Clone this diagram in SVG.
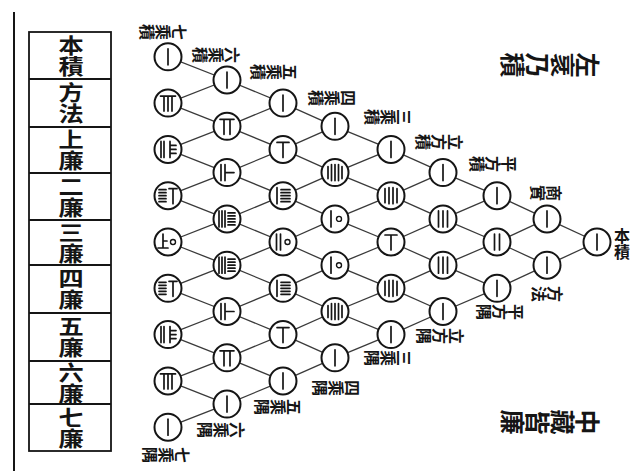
<svg xmlns="http://www.w3.org/2000/svg" width="635" height="471" viewBox="0 0 635 471">
  <style>
    .ring { fill: #fff; stroke: #151515; stroke-width: 2; }
    .rod { fill: none; stroke: #151515; stroke-width: 1.7; stroke-linecap: round; }
    .zero { fill: none; stroke: #151515; stroke-width: 1.4; }
    .edge line { stroke: #3a3a3a; stroke-width: 1.3; }
    .cjk { font-family: "Noto Sans CJK TC", "Noto Sans CJK SC", sans-serif; fill: #151515; }
    .v { writing-mode: vertical-rl; text-anchor: middle; }
    .cell { font-size: 21px; font-weight: bold; }
    .lab { font-size: 16px; font-weight: bold; }
    .cap { font-size: 25px; font-weight: bold; }
    .frame { fill: none; stroke: #151515; stroke-width: 1.8; }
  </style>
  <defs>
    <!-- counting-rod numerals, centred on the origin -->
    <g id="g1"><path class="rod" d="M0,-8V8"/></g>
    <g id="g2"><path class="rod" d="M-2.5,-8V8M2.5,-8V8"/></g>
    <g id="g3"><path class="rod" d="M-4.5,-8V8M0,-8V8M4.5,-8V8"/></g>
    <g id="g4"><path class="rod" d="M-6,-7V7M-2,-8V8M2,-8V8M6,-7V7"/></g>
    <g id="g5"><path class="rod" d="M-7,-6V6M-3.5,-8V8M0,-8V8M3.5,-8V8M7,-6V6"/></g>
    <g id="g6"><path class="rod" d="M-6,-7H6M0,-7V8"/></g>
    <g id="g7"><path class="rod" d="M-7,-7H7M-3,-7V8M3,-7V8"/></g>
    <g id="g8"><path class="rod" d="M-7.5,-7H7.5M-4,-7V8M0,-7V8M4,-7V8"/></g>
    <g id="g10"><path class="rod" d="M-4,-8V8"/><circle class="zero" cx="4" cy="0" r="2.5"/></g>
    <g id="g20"><path class="rod" d="M-6.5,-8V8M-2.5,-8V8"/><circle class="zero" cx="4.5" cy="0" r="2.5"/></g>
    <g id="g15"><path class="rod" d="M-6,-8V8M-2,-6H7M-2,-3H7M-2,0H7M-2,3H7M-2,6H7"/></g>
    <g id="g35"><path class="rod" d="M-8,-8V8M-5,-8V8M-2,-8V8M1,-6H8M1,-3H8M1,0H8M1,3H8M1,6H8"/></g>
    <g id="g21"><path class="rod" d="M-6,-8V8M-2,-8V8M-2,0H7"/></g>
    <g id="g28"><path class="rod" d="M-7,-8V8M-4,-8V8M2,-8V8M2,-4H8M2,0H8M2,4H8"/></g>
    <g id="g56"><path class="rod" d="M-9,-6H-2M-9,-3H-2M-9,0H-2M-9,3H-2M-9,6H-2M1,-7H9M5,-7V8"/></g>
    <g id="g70"><path class="rod" d="M-5,-8V6M-10,6H0M-5,-1H-1"/><circle class="zero" cx="5" cy="0" r="2.5"/></g>
  </defs>

  <rect width="635" height="471" fill="#fff"/>

  <!-- margin rule and the table of names -->
  <g id="table">
    <line x1="14" y1="12" x2="14" y2="471" stroke="#151515" stroke-width="2"/>
    <rect class="frame" x="29" y="32" width="82" height="419"/>
    <path class="frame" d="M29,79H111M29,127H111M29,173H111M29,220H111M29,265H111M29,313H111M29,361H111M29,404H111"/>
    <g class="cjk cell">
      <text class="v" transform="translate(71,56) scale(1.2,1)">本積</text>
      <text class="v" transform="translate(71,103) scale(1.2,1)">方法</text>
      <text class="v" transform="translate(71,150) scale(1.2,1)">上廉</text>
      <text class="v" transform="translate(71,197) scale(1.2,1)">二廉</text>
      <text class="v" transform="translate(71,243) scale(1.2,1)">三廉</text>
      <text class="v" transform="translate(71,289) scale(1.2,1)">四廉</text>
      <text class="v" transform="translate(71,337) scale(1.2,1)">五廉</text>
      <text class="v" transform="translate(71,383) scale(1.2,1)">六廉</text>
      <text class="v" transform="translate(71,428) scale(1.2,1)">七廉</text>
    </g>
  </g>

  <!-- lattice connectors -->
  <g id="connectors" class="edge">
    <line x1="597" y1="242" x2="547" y2="218.9"/><line x1="597" y1="242" x2="547" y2="265.2"/>
    <line x1="547" y1="218.9" x2="497" y2="195.7"/><line x1="547" y1="218.9" x2="497" y2="242"/>
    <line x1="547" y1="265.2" x2="497" y2="242"/><line x1="547" y1="265.2" x2="497" y2="288.3"/>
    <line x1="497" y1="195.7" x2="443" y2="172.6"/><line x1="497" y1="195.7" x2="443" y2="218.9"/>
    <line x1="497" y1="242" x2="443" y2="218.9"/><line x1="497" y1="242" x2="443" y2="265.2"/>
    <line x1="497" y1="288.3" x2="443" y2="265.2"/><line x1="497" y1="288.3" x2="443" y2="311.5"/>
    <line x1="443" y1="172.6" x2="391" y2="149.4"/><line x1="443" y1="172.6" x2="391" y2="195.7"/>
    <line x1="443" y1="218.9" x2="391" y2="195.7"/><line x1="443" y1="218.9" x2="391" y2="242"/>
    <line x1="443" y1="265.2" x2="391" y2="242"/><line x1="443" y1="265.2" x2="391" y2="288.3"/>
    <line x1="443" y1="311.5" x2="391" y2="288.3"/><line x1="443" y1="311.5" x2="391" y2="334.6"/>
    <line x1="391" y1="149.4" x2="335" y2="126.3"/><line x1="391" y1="149.4" x2="335" y2="172.6"/>
    <line x1="391" y1="195.7" x2="335" y2="172.6"/><line x1="391" y1="195.7" x2="335" y2="218.9"/>
    <line x1="391" y1="242" x2="335" y2="218.9"/><line x1="391" y1="242" x2="335" y2="265.2"/>
    <line x1="391" y1="288.3" x2="335" y2="265.2"/><line x1="391" y1="288.3" x2="335" y2="311.5"/>
    <line x1="391" y1="334.6" x2="335" y2="311.5"/><line x1="391" y1="334.6" x2="335" y2="357.8"/>
    <line x1="335" y1="126.3" x2="283" y2="103.1"/><line x1="335" y1="126.3" x2="283" y2="149.4"/>
    <line x1="335" y1="172.6" x2="283" y2="149.4"/><line x1="335" y1="172.6" x2="283" y2="195.7"/>
    <line x1="335" y1="218.9" x2="283" y2="195.7"/><line x1="335" y1="218.9" x2="283" y2="242"/>
    <line x1="335" y1="265.2" x2="283" y2="242"/><line x1="335" y1="265.2" x2="283" y2="288.3"/>
    <line x1="335" y1="311.5" x2="283" y2="288.3"/><line x1="335" y1="311.5" x2="283" y2="334.6"/>
    <line x1="335" y1="357.8" x2="283" y2="334.6"/><line x1="335" y1="357.8" x2="283" y2="380.9"/>
    <line x1="283" y1="103.1" x2="227" y2="80"/><line x1="283" y1="103.1" x2="227" y2="126.3"/>
    <line x1="283" y1="149.4" x2="227" y2="126.3"/><line x1="283" y1="149.4" x2="227" y2="172.6"/>
    <line x1="283" y1="195.7" x2="227" y2="172.6"/><line x1="283" y1="195.7" x2="227" y2="218.9"/>
    <line x1="283" y1="242" x2="227" y2="218.9"/><line x1="283" y1="242" x2="227" y2="265.2"/>
    <line x1="283" y1="288.3" x2="227" y2="265.2"/><line x1="283" y1="288.3" x2="227" y2="311.5"/>
    <line x1="283" y1="334.6" x2="227" y2="311.5"/><line x1="283" y1="334.6" x2="227" y2="357.8"/>
    <line x1="283" y1="380.9" x2="227" y2="357.8"/><line x1="283" y1="380.9" x2="227" y2="404.1"/>
    <line x1="227" y1="80" x2="168" y2="56.8"/><line x1="227" y1="80" x2="168" y2="103.1"/>
    <line x1="227" y1="126.3" x2="168" y2="103.1"/><line x1="227" y1="126.3" x2="168" y2="149.4"/>
    <line x1="227" y1="172.6" x2="168" y2="149.4"/><line x1="227" y1="172.6" x2="168" y2="195.7"/>
    <line x1="227" y1="218.9" x2="168" y2="195.7"/><line x1="227" y1="218.9" x2="168" y2="242"/>
    <line x1="227" y1="265.2" x2="168" y2="242"/><line x1="227" y1="265.2" x2="168" y2="288.3"/>
    <line x1="227" y1="311.5" x2="168" y2="288.3"/><line x1="227" y1="311.5" x2="168" y2="334.6"/>
    <line x1="227" y1="357.8" x2="168" y2="334.6"/><line x1="227" y1="357.8" x2="168" y2="380.9"/>
    <line x1="227" y1="404.1" x2="168" y2="380.9"/><line x1="227" y1="404.1" x2="168" y2="427.2"/>
  </g>

  <!-- number nodes, column by column from the apex -->
  <g id="nodes">
    <g id="n0-0"><circle class="ring" cx="597" cy="242" r="13.5"/><use href="#g1" x="597" y="242"/></g>

    <g id="n1-0"><circle class="ring" cx="547" cy="218.9" r="13.5"/><use href="#g1" x="547" y="218.9"/></g>
    <g id="n1-1"><circle class="ring" cx="547" cy="265.2" r="13.5"/><use href="#g1" x="547" y="265.2"/></g>

    <g id="n2-0"><circle class="ring" cx="497" cy="195.7" r="13.5"/><use href="#g1" x="497" y="195.7"/></g>
    <g id="n2-1"><circle class="ring" cx="497" cy="242" r="13.5"/><use href="#g2" x="497" y="242"/></g>
    <g id="n2-2"><circle class="ring" cx="497" cy="288.3" r="13.5"/><use href="#g1" x="497" y="288.3"/></g>

    <g id="n3-0"><circle class="ring" cx="443" cy="172.6" r="13.5"/><use href="#g1" x="443" y="172.6"/></g>
    <g id="n3-1"><circle class="ring" cx="443" cy="218.9" r="13.5"/><use href="#g3" x="443" y="218.9"/></g>
    <g id="n3-2"><circle class="ring" cx="443" cy="265.2" r="13.5"/><use href="#g3" x="443" y="265.2"/></g>
    <g id="n3-3"><circle class="ring" cx="443" cy="311.5" r="13.5"/><use href="#g1" x="443" y="311.5"/></g>

    <g id="n4-0"><circle class="ring" cx="391" cy="149.4" r="13.5"/><use href="#g1" x="391" y="149.4"/></g>
    <g id="n4-1"><circle class="ring" cx="391" cy="195.7" r="13.5"/><use href="#g4" x="391" y="195.7"/></g>
    <g id="n4-2"><circle class="ring" cx="391" cy="242" r="13.5"/><use href="#g6" x="391" y="242"/></g>
    <g id="n4-3"><circle class="ring" cx="391" cy="288.3" r="13.5"/><use href="#g4" x="391" y="288.3"/></g>
    <g id="n4-4"><circle class="ring" cx="391" cy="334.6" r="13.5"/><use href="#g1" x="391" y="334.6"/></g>

    <g id="n5-0"><circle class="ring" cx="335" cy="126.3" r="13.5"/><use href="#g1" x="335" y="126.3"/></g>
    <g id="n5-1"><circle class="ring" cx="335" cy="172.6" r="13.5"/><use href="#g5" x="335" y="172.6"/></g>
    <g id="n5-2"><circle class="ring" cx="335" cy="218.9" r="13.5"/><use href="#g10" x="335" y="218.9"/></g>
    <g id="n5-3"><circle class="ring" cx="335" cy="265.2" r="13.5"/><use href="#g10" x="335" y="265.2"/></g>
    <g id="n5-4"><circle class="ring" cx="335" cy="311.5" r="13.5"/><use href="#g5" x="335" y="311.5"/></g>
    <g id="n5-5"><circle class="ring" cx="335" cy="357.8" r="13.5"/><use href="#g1" x="335" y="357.8"/></g>

    <g id="n6-0"><circle class="ring" cx="283" cy="103.1" r="13.5"/><use href="#g1" x="283" y="103.1"/></g>
    <g id="n6-1"><circle class="ring" cx="283" cy="149.4" r="13.5"/><use href="#g6" x="283" y="149.4"/></g>
    <g id="n6-2"><circle class="ring" cx="283" cy="195.7" r="13.5"/><use href="#g15" x="283" y="195.7"/></g>
    <g id="n6-3"><circle class="ring" cx="283" cy="242" r="13.5"/><use href="#g20" x="283" y="242"/></g>
    <g id="n6-4"><circle class="ring" cx="283" cy="288.3" r="13.5"/><use href="#g15" x="283" y="288.3"/></g>
    <g id="n6-5"><circle class="ring" cx="283" cy="334.6" r="13.5"/><use href="#g6" x="283" y="334.6"/></g>
    <g id="n6-6"><circle class="ring" cx="283" cy="380.9" r="13.5"/><use href="#g1" x="283" y="380.9"/></g>

    <g id="n7-0"><circle class="ring" cx="227" cy="80" r="13.5"/><use href="#g1" x="227" y="80"/></g>
    <g id="n7-1"><circle class="ring" cx="227" cy="126.3" r="13.5"/><use href="#g7" x="227" y="126.3"/></g>
    <g id="n7-2"><circle class="ring" cx="227" cy="172.6" r="13.5"/><use href="#g21" x="227" y="172.6"/></g>
    <g id="n7-3"><circle class="ring" cx="227" cy="218.9" r="13.5"/><use href="#g35" x="227" y="218.9"/></g>
    <g id="n7-4"><circle class="ring" cx="227" cy="265.2" r="13.5"/><use href="#g35" x="227" y="265.2"/></g>
    <g id="n7-5"><circle class="ring" cx="227" cy="311.5" r="13.5"/><use href="#g21" x="227" y="311.5"/></g>
    <g id="n7-6"><circle class="ring" cx="227" cy="357.8" r="13.5"/><use href="#g7" x="227" y="357.8"/></g>
    <g id="n7-7"><circle class="ring" cx="227" cy="404.1" r="13.5"/><use href="#g1" x="227" y="404.1"/></g>

    <g id="n8-0"><circle class="ring" cx="168" cy="56.8" r="13.5"/><use href="#g1" x="168" y="56.8"/></g>
    <g id="n8-1"><circle class="ring" cx="168" cy="103.1" r="13.5"/><use href="#g8" x="168" y="103.1"/></g>
    <g id="n8-2"><circle class="ring" cx="168" cy="149.4" r="13.5"/><use href="#g28" x="168" y="149.4"/></g>
    <g id="n8-3"><circle class="ring" cx="168" cy="195.7" r="13.5"/><use href="#g56" x="168" y="195.7"/></g>
    <g id="n8-4"><circle class="ring" cx="168" cy="242" r="13.5"/><use href="#g70" x="168" y="242"/></g>
    <g id="n8-5"><circle class="ring" cx="168" cy="288.3" r="13.5"/><use href="#g56" x="168" y="288.3"/></g>
    <g id="n8-6"><circle class="ring" cx="168" cy="334.6" r="13.5"/><use href="#g28" x="168" y="334.6"/></g>
    <g id="n8-7"><circle class="ring" cx="168" cy="380.9" r="13.5"/><use href="#g8" x="168" y="380.9"/></g>
    <g id="n8-8"><circle class="ring" cx="168" cy="427.2" r="13.5"/><use href="#g1" x="168" y="427.2"/></g>
  </g>

  <!-- edge names, written sideways -->
  <g id="labels" class="cjk lab">
    <text class="v" transform="translate(622,244)">本積</text>
    <text class="v" transform="translate(163,32) rotate(90)">七乘積</text>
    <text class="v" transform="translate(216,55) rotate(90)">六乘積</text>
    <text class="v" transform="translate(274,72) rotate(90)">五乘積</text>
    <text class="v" transform="translate(332,98) rotate(90)">四乘積</text>
    <text class="v" transform="translate(388,117) rotate(90)">三乘積</text>
    <text class="v" transform="translate(439,142) rotate(90)">立方積</text>
    <text class="v" transform="translate(493,164) rotate(90)">平方積</text>
    <text class="v" transform="translate(546,193) rotate(90)">商實</text>
    <text class="v" transform="translate(547,294) rotate(90)">方法</text>
    <text class="v" transform="translate(500,312) rotate(90)">平方隅</text>
    <text class="v" transform="translate(440,336) rotate(90)">立方隅</text>
    <text class="v" transform="translate(388,358) rotate(90)">三乘隅</text>
    <text class="v" transform="translate(336,388) rotate(90)">四乘隅</text>
    <text class="v" transform="translate(278,407) rotate(90)">五乘隅</text>
    <text class="v" transform="translate(221,430) rotate(90)">六乘隅</text>
    <text class="v" transform="translate(166,455) rotate(90)">七乘隅</text>
  </g>

  <!-- captions -->
  <g id="captions" class="cjk cap">
    <text class="v" transform="translate(550,65) rotate(90)">左衺乃積</text>
    <text class="v" transform="translate(550,422) rotate(90)">中藏皆廉</text>
  </g>
</svg>
